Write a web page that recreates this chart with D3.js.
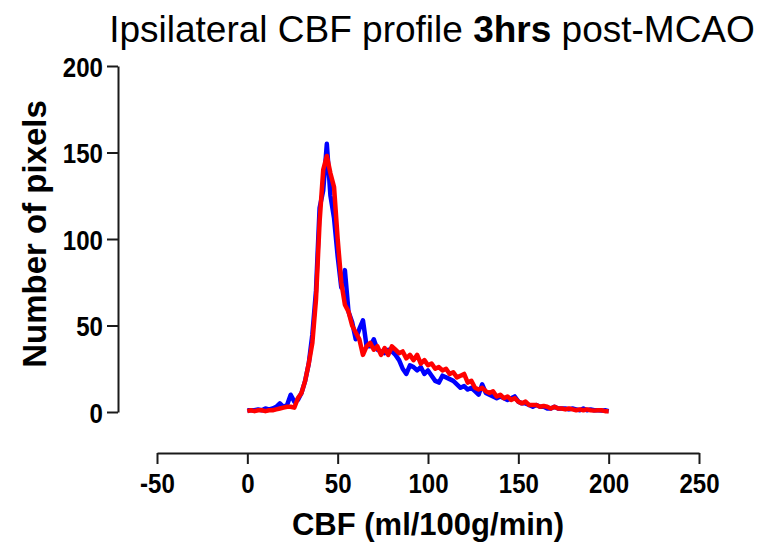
<!DOCTYPE html>
<html>
<head>
<meta charset="utf-8">
<script src="https://cdn.jsdelivr.net/npm/d3@7"></script>
<style>
  body { margin: 0; background: #fff; }
  svg text { font-family: Arial, "Liberation Sans", sans-serif; fill: #000; }
</style>
</head>
<body>
<div id="chart"></div>
<script>
// CBF bins (ml/100g/min)
var cbf = d3.range(0, 201, 2)

// pixel counts per bin
var blueCounts = [
  1, 1, 1, 1.5, 1, 2, 1.5, 2, 3, 5,
  3, 4, 10, 6, 7, 11, 18, 28, 45, 70,
  118, 128, 155, 125, 112, 90, 72, 82, 58, 52,
  42, 48, 53, 38, 38, 42, 36, 35, 34, 36,
  35, 33, 30, 25, 22, 27, 26, 24, 26, 22,
  24, 21, 18, 17, 21, 20, 19, 18, 16, 14,
  15, 13, 14, 12, 10, 16, 11, 10, 9, 8,
  9, 8, 7, 8, 9, 6, 5, 5, 4, 3,
  4, 3, 3, 2, 2, 3, 2, 2, 2, 1.5,
  2, 1.5, 1, 2, 1, 1.5, 1, 1, 0.8, 1,
  0.5
]
var redCounts = [
  0.5, 1, 0.5, 1, 1, 0.5, 1, 1, 1.5, 2,
  2.5, 3, 3, 2.5, 8, 11, 18, 28, 40, 65,
  110, 140, 148, 138, 130, 100, 75, 62, 58, 50,
  46, 42, 33, 38, 40, 36, 38, 33, 37, 33,
  38, 36, 34, 35, 31, 33, 30, 33, 28, 30,
  27, 28, 25, 26, 24, 25, 22, 23, 20, 21,
  22, 17, 18, 14, 13, 14, 12, 11, 12, 9,
  10, 8, 9, 7, 8, 6, 5, 6, 4, 4,
  4, 3, 3.5, 3, 2, 3, 2, 2, 1.5, 2,
  1.5, 1, 1.5, 1, 1.5, 1, 0.8, 1, 1, 0.5,
  0.5
]

var xTicks = [-50, 0, 50, 100, 150, 200, 250]
var yTicks = [0, 50, 100, 150, 200]

var width = 760, height = 543

var svg = d3.select('#chart').append('svg')
  .attr('width', width)
  .attr('height', height)

var x = d3.scaleLinear().domain([-50, 250]).range([157, 699])
var y = d3.scaleLinear().domain([0, 200]).range([412, 66])

var axisColor = '#1a1a1a'
var plain = function(d) { return String(d) }

// y axis (detached, Prism style)
var yAxis = svg.append('g')
  .attr('transform', 'translate(118,0)')
  .call(d3.axisLeft(y).tickValues(yTicks).tickFormat(plain).tickSize(11).tickSizeOuter(0))
yAxis.select('.domain').attr('stroke', axisColor).attr('stroke-width', 2)
yAxis.selectAll('.tick line').attr('stroke', axisColor).attr('stroke-width', 2)
// narrow, tall digits like the original export
yAxis.selectAll('.tick text')
  .attr('x', 0).attr('dy', '0.36em')
  .attr('transform', 'translate(-15,0) scale(0.86,1)')
  .style('font-size', '28px').style('font-weight', 'bold')
  .attr('fill', '#000')

// x axis
var xAxis = svg.append('g')
  .attr('transform', 'translate(0,453)')
  .call(d3.axisBottom(x).tickValues(xTicks).tickFormat(plain).tickSize(11).tickSizeOuter(0))
xAxis.select('.domain').attr('stroke', axisColor).attr('stroke-width', 2)
xAxis.selectAll('.tick line').attr('stroke', axisColor).attr('stroke-width', 2)
xAxis.selectAll('.tick text')
  .attr('y', 0).attr('dy', 0)
  .attr('transform', 'translate(0,40) scale(0.86,1)')
  .style('font-size', '28px').style('font-weight', 'bold')
  .attr('fill', '#000')

// lines
var line = d3.line()
  .x(function(d, i) { return x(cbf[i]) })
  .y(function(d) { return y(d) })

svg.append('path')
  .datum(blueCounts)
  .attr('d', line)
  .attr('fill', 'none')
  .attr('stroke', '#0000ff')
  .attr('stroke-width', 4.5)
  .attr('stroke-linejoin', 'round')

svg.append('path')
  .datum(redCounts)
  .attr('d', line)
  .attr('fill', 'none')
  .attr('stroke', '#ff0000')
  .attr('stroke-width', 4.5)
  .attr('stroke-linejoin', 'round')

// title
var title = svg.append('text')
  .attr('x', 432)
  .attr('y', 42)
  .attr('text-anchor', 'middle')
  .style('font-size', '37px')
title.append('tspan').text('Ipsilateral CBF profile ')
title.append('tspan').style('font-weight', 'bold').text('3hrs')
title.append('tspan').text(' post-MCAO')

// axis titles
svg.append('text')
  .attr('x', 428)
  .attr('y', 535)
  .attr('text-anchor', 'middle')
  .style('font-size', '31px')
  .style('font-weight', 'bold')
  .text('CBF (ml/100g/min)')

svg.append('text')
  .attr('transform', 'translate(46,234) rotate(-90)')
  .attr('text-anchor', 'middle')
  .style('font-size', '33px')
  .style('font-weight', 'bold')
  .text('Number of pixels')
</script>
</body>
</html>
